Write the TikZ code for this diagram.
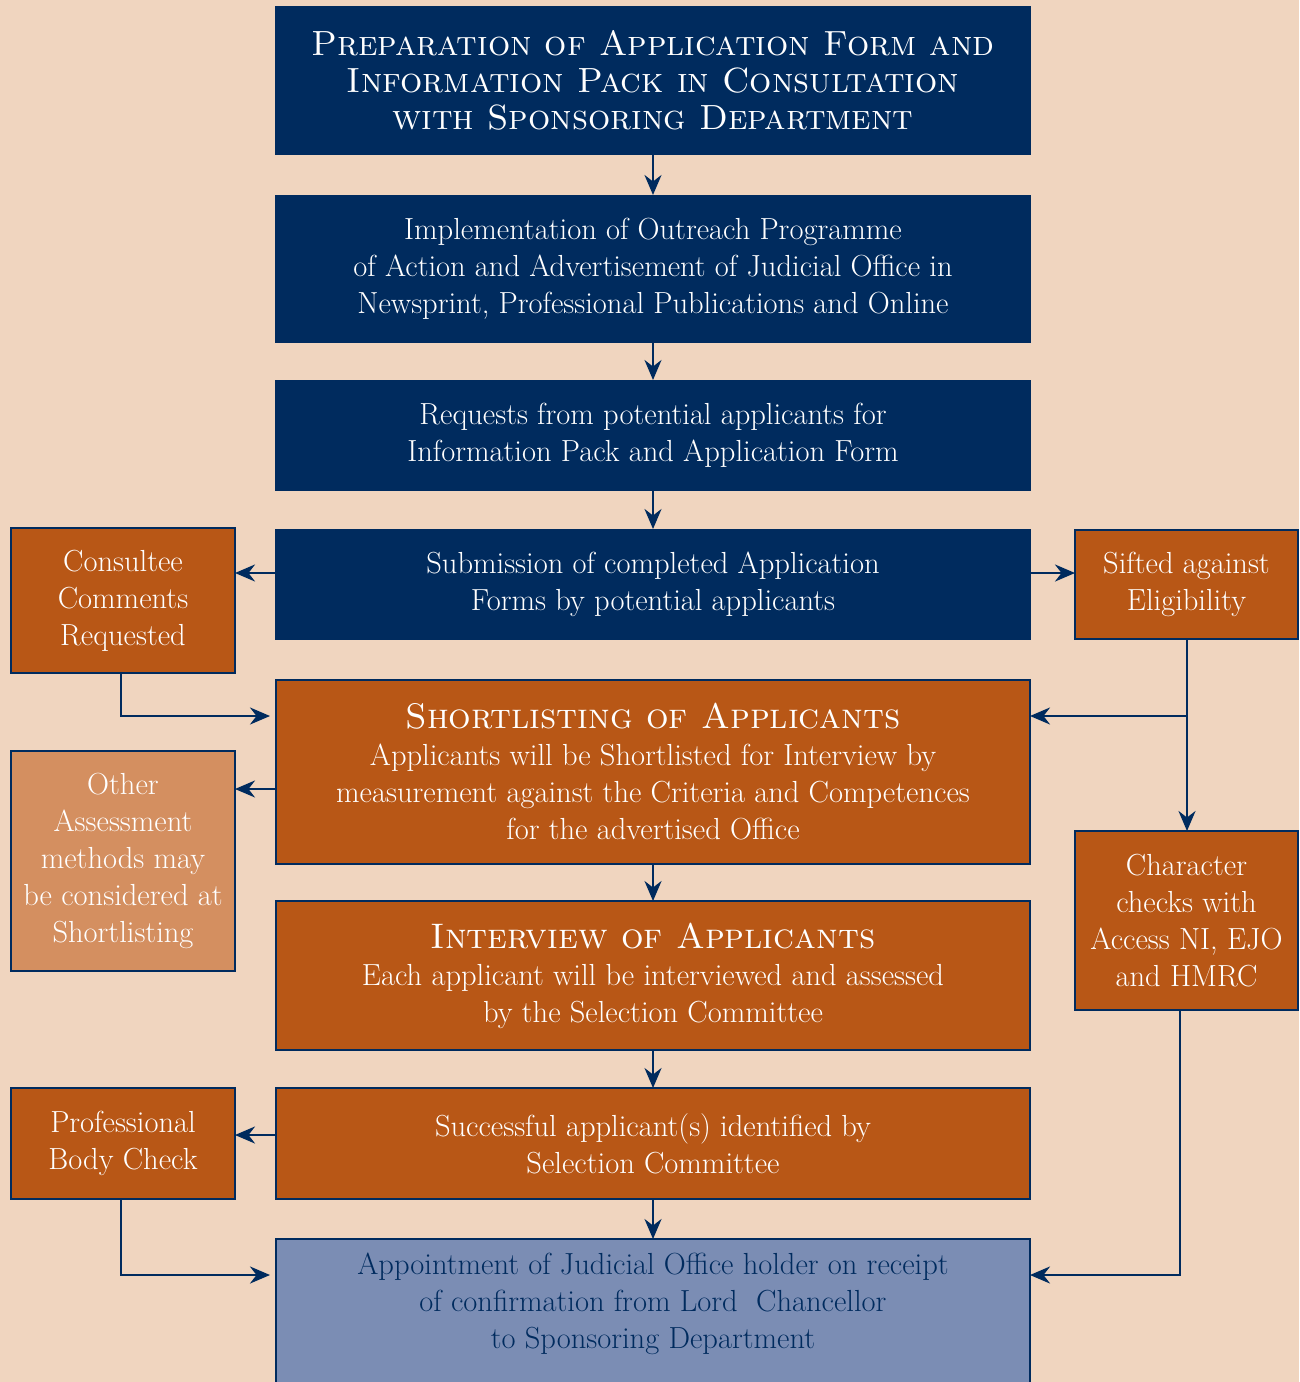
\documentclass[tikz,border=0pt]{standalone}
\usepackage{fontspec}
\usetikzlibrary{arrows.meta}
\definecolor{bgc}{RGB}{240,213,191}
\definecolor{navy}{RGB}{0,43,94}
\definecolor{orng}{RGB}{184,87,22}
\definecolor{lorng}{RGB}{212,143,96}
\definecolor{lblue}{RGB}{123,141,180}
\tikzset{
  box/.style={rectangle, inner sep=0pt, outer sep=0pt, align=center, text=white,
    font=\fontsize{30.5}{37}\selectfont},
  navybox/.style={box, fill=navy},
  orbox/.style={box, fill=orng, draw=navy, line width=2.5pt},
  lorbox/.style={box, fill=lorng, draw=navy, line width=2.5pt},
  bluebox/.style={box, fill=lblue, draw=navy, line width=2.5pt},
  conn/.style={draw=navy, line width=2.5pt, -{Stealth[length=20pt,width=17pt]}},
  plain/.style={draw=navy, line width=2.5pt},
  ttl/.style={font=\fontsize{35}{37}\selectfont\scshape},
}
\newcommand{\hd}[1]{{\fontsize{35.5}{40}\selectfont\scshape #1}}
\begin{document}
\begin{tikzpicture}[x=1pt,y=-1pt]
\useasboundingbox[fill=bgc] (0,0) rectangle (1299,1382);
% main column
\node[navybox, ttl, minimum width=756pt, minimum height=149pt] (b1) at (653,80.5)
  {Preparation of Application Form and\\Information Pack in Consultation\\with Sponsoring Department};
\node[navybox, minimum width=756pt, minimum height=148pt] (b2) at (653,269)
  {Implementation of Outreach Programme\\of Action and Advertisement of Judicial Office in\\Newsprint, Professional Publications and Online};
\node[navybox, minimum width=756pt, minimum height=111pt] (b3) at (653,435.5)
  {Requests from potential applicants for\\Information Pack and Application Form};
\node[navybox, minimum width=756pt, minimum height=111pt] (b4) at (653,584.5)
  {Submission of completed Application\\Forms by potential applicants};
\node[orbox, minimum width=754pt, minimum height=184pt] (b5) at (653,772)
  {\hd{Shortlisting of Applicants}\\Applicants will be Shortlisted for Interview by\\measurement against the Criteria and Competences\\for the advertised Office};
\node[orbox, minimum width=754pt, minimum height=149pt] (b6) at (653,975.5)
  {\hd{Interview of Applicants}\\Each applicant will be interviewed and assessed\\by the Selection Committee};
\node[orbox, minimum width=754pt, minimum height=111pt] (b7) at (653,1143.5)
  {Successful applicant(s) identified by\\Selection Committee};
\node[bluebox, minimum width=754pt, minimum height=160pt] (b8) at (653,1319) {};
\node[box, text=navy] (t8) at (653,1304)
  {Appointment of Judicial Office holder on receipt\\of confirmation from Lord~ Chancellor\\to Sponsoring Department};
% left column
\node[orbox, minimum width=224pt, minimum height=145pt] (l1) at (123,600.5)
  {Consultee\\Comments\\Requested};
\node[lorbox, minimum width=224pt, minimum height=220pt] (l2) at (123,861)
  {Other\\Assessment\\methods may\\be considered at\\Shortlisting};
\node[orbox, minimum width=224pt, minimum height=111pt] (l3) at (123,1143.5)
  {Professional\\Body Check};
% right column
\node[orbox, minimum width=223pt, minimum height=109pt] (r1) at (1186.5,584.5)
  {Sifted against\\Eligibility};
\node[orbox, minimum width=223pt, minimum height=179pt] (r2) at (1186.5,920.5)
  {Character\\checks with\\Access NI, EJO\\and HMRC};
% coordinates for elbows
\coordinate (c1) at (121,716);
\coordinate (c2) at (1187,716);
\coordinate (c3) at (121,1275);
\coordinate (c4) at (1180,1275);
% connectors
\draw[conn] (b1) -- (b2);
\draw[conn] (b2) -- (b3);
\draw[conn] (b3) -- (b4);
\draw[conn] (b5) -- (b6);
\draw[conn] (b6) -- (b7);
\draw[conn] (b7) -- (b8);
\draw[conn] (b4.west |- 0,573) -- (l1.east |- 0,573);
\draw[conn] (b4.east |- 0,573) -- (r1.west |- 0,573);
\draw[conn] (b5.west |- 0,789) -- (l2.east |- 0,789);
\draw[conn] (b7.west |- 0,1135) -- (l3.east |- 0,1135);
\draw[conn] (l1.south -| c1) -- (c1) -- ([xshift=-6pt]b5.west |- c1);
\draw[plain] (r1.south -| c2) -- (c2);
\draw[conn] (c2) -- (b5.east |- c2);
\draw[conn] (c2) -- (r2.north -| c2);
\draw[conn] (l3.south -| c3) -- (c3) -- ([xshift=-6pt]b8.west |- c3);
\draw[conn] (r2.south -| c4) -- (c4) -- (b8.east |- c4);
\end{tikzpicture}
\end{document}
